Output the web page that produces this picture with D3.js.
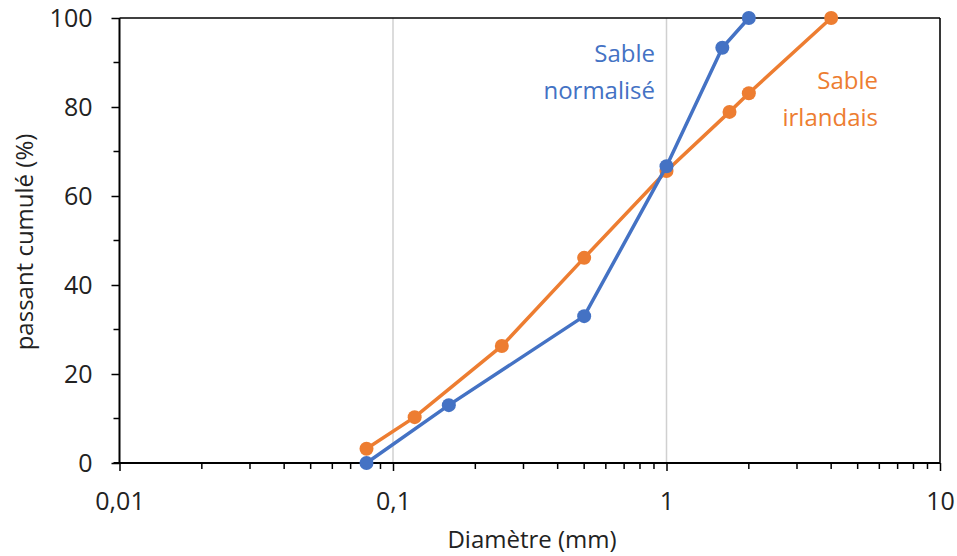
<!DOCTYPE html>
<html><head><meta charset="utf-8">
<script src="https://cdn.jsdelivr.net/npm/d3@7"></script>
<style>body{margin:0;background:#fff;} text{font-family:"Open Sans",sans-serif;}</style>
</head><body>
<svg id="c" width="957" height="556"></svg>
<script>
const normX = [0.08, 0.16, 0.5, 1, 1.6, 2];
const normY = [0, 13, 33, 66.7, 93.3, 100];
const irlX = [0.08, 0.12, 0.25, 0.5, 1, 1.7, 2, 4];
const irlY = [3.2, 10.3, 26.3, 46.1, 65.6, 78.9, 83.1, 100];
const xTicks = [0.01, 0.1, 1, 10];
const xTickLabels = ["0,01", "0,1", "1", "10"];
const yTicks = [0, 20, 40, 60, 80, 100];
const seriesNames = ["Sable normalisé", "Sable irlandais"];
const colors = ["#4472C4", "#ED7D31"];

const svg = d3.select("#c");
const L = 119.5, R = 940, T = 18, B = 463;
const FS = 24;
const x = d3.scaleLog().domain([0.01, 10]).range([L, R]);
const y = d3.scaleLinear().domain([0, 100]).range([B, T]);

// vertical gridlines
svg.append("g").selectAll("line").data(xTicks.slice(1)).join("line")
  .attr("x1", d => x(d)).attr("x2", d => x(d)).attr("y1", T).attr("y2", B)
  .attr("stroke", "#d0d0d0").attr("stroke-width", 1.5);

// frame
svg.append("line").attr("x1", L).attr("x2", R).attr("y1", T).attr("y2", T).attr("stroke", "#000").attr("stroke-width", 1.5);
svg.append("line").attr("x1", R).attr("x2", R).attr("y1", T).attr("y2", B).attr("stroke", "#000").attr("stroke-width", 1.5);

// minor x ticks
const minor = [];
[0.01, 0.1, 1].forEach(d => { for (let k = 2; k <= 9; k++) minor.push(d * k); });
svg.append("g").selectAll("line").data(minor).join("line")
  .attr("x1", d => x(d)).attr("x2", d => x(d)).attr("y1", B).attr("y2", B + 6)
  .attr("stroke", "#000").attr("stroke-width", 1.5);

// x axis
const xa = svg.append("g").attr("transform", `translate(0,${B})`)
  .call(d3.axisBottom(x).tickValues(xTicks).tickFormat((d, i) => xTickLabels[i]).tickSize(8).tickPadding(21));
xa.select(".domain").attr("stroke-width", 2).attr("d", `M${L - 6},0H${R}`);
xa.selectAll(".tick line").attr("stroke-width", 1.5);
xa.selectAll("text").attr("font-size", 25).attr("fill", "#222").style("font-family", "'Open Sans',sans-serif");

// y minor ticks
svg.append("g").selectAll("line").data([10, 30, 50, 70, 90]).join("line")
  .attr("x1", L - 6).attr("x2", L).attr("y1", d => y(d)).attr("y2", d => y(d))
  .attr("stroke", "#000").attr("stroke-width", 1.5);

const ya = svg.append("g").attr("transform", `translate(${L},0)`)
  .call(d3.axisLeft(y).tickValues(yTicks).tickSize(8).tickPadding(19));
ya.select(".domain").attr("stroke-width", 2).attr("d", `M0,${B}V${T}`);
ya.selectAll(".tick line").attr("stroke-width", 1.5);
ya.selectAll("text").attr("font-size", 25).attr("fill", "#222").style("font-family", "'Open Sans',sans-serif");

// titles
svg.append("text").attr("x", 532).attr("y", 548).attr("text-anchor", "middle")
  .attr("font-size", FS).attr("fill", "#222").text("Diamètre (mm)");
svg.append("text").attr("transform", `translate(33,242) rotate(-90)`).attr("text-anchor", "middle")
  .attr("font-size", FS).attr("fill", "#222").text("passant cumulé (%)");

// series
const series = [
  normX.map((d, i) => [d, normY[i]]),
  irlX.map((d, i) => [d, irlY[i]])
];
const line = d3.line().x(d => x(d[0])).y(d => y(d[1]));
[1, 0].forEach(s => {
  svg.append("path").datum(series[s]).attr("d", line).attr("fill", "none")
    .attr("stroke", colors[s]).attr("stroke-width", 3.5);
  svg.append("g").selectAll("circle").data(series[s]).join("circle")
    .attr("cx", d => x(d[0])).attr("cy", d => y(d[1])).attr("r", 7).attr("fill", colors[s]);
});

// labels
const lab = [[655, 62, ["Sable", "normalisé"]], [878, 89, ["Sable", "irlandais"]]];
lab.forEach((l, s) => {
  const t = svg.append("text").attr("text-anchor", "end").attr("font-size", FS).attr("fill", colors[s]);
  l[2].forEach((w, i) => t.append("tspan").attr("x", l[0]).attr("y", l[1] + i * 37).text(w));
});
</script>
</body></html>
